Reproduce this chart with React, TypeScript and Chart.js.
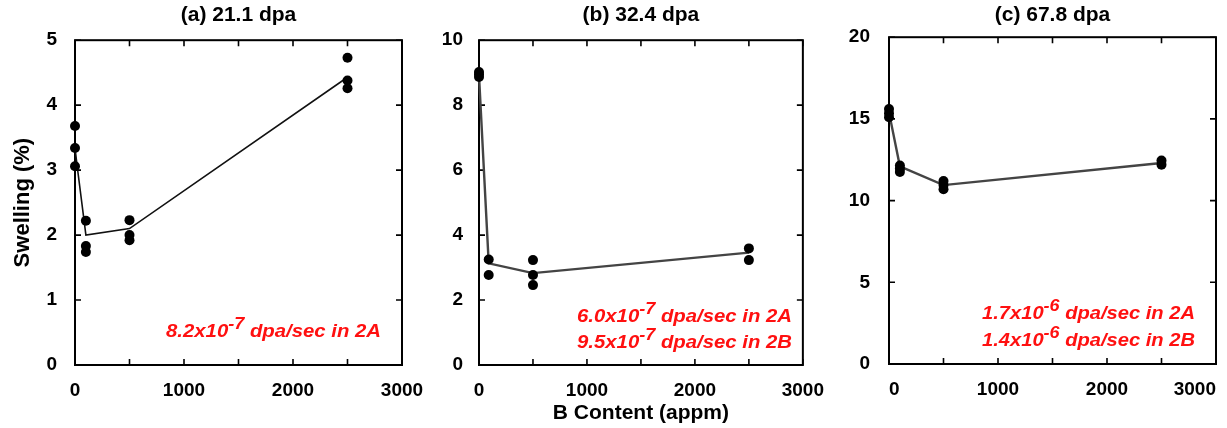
import React, { useEffect, useRef } from 'react';
import { Chart, registerables } from 'chart.js';

Chart.register(...registerables);

const FONT = '"Liberation Sans", Arial, Helvetica, sans-serif';

// ---------- Data ----------
// Panel (a) 21.1 dpa
const aBContent = [0, 0, 0, 100, 100, 100, 500, 500, 500, 2500, 2500, 2500];
const aSwelling = [3.68, 3.34, 3.06, 2.22, 1.83, 1.74, 2.23, 2.0, 1.92, 4.73, 4.38, 4.26];
const aTrendB = [0, 20, 100, 500, 2500];
const aTrendSwelling = [3.34, 3.06, 2.0, 2.1, 4.43];

// Panel (b) 32.4 dpa
const bBContent = [0, 0, 0, 90, 90, 500, 500, 500, 2500, 2500];
const bSwelling = [9.02, 8.95, 8.87, 3.25, 2.77, 3.23, 2.77, 2.46, 3.59, 3.23];
const bTrendB = [0, 90, 500, 2500];
const bTrendSwelling = [8.92, 3.13, 2.83, 3.46];

// Panel (c) 67.8 dpa
const cBContent = [0, 0, 0, 100, 100, 100, 500, 500, 500, 2500, 2500];
const cSwelling = [15.6, 15.35, 15.1, 12.15, 11.95, 11.75, 11.2, 10.95, 10.7, 12.45, 12.2];
const cTrendB = [0, 100, 500, 2500];
const cTrendSwelling = [15.4, 12.1, 10.95, 12.3];

const panelTitles = ['(a) 21.1 dpa', '(b) 32.4 dpa', '(c) 67.8 dpa'];
const yMaxValues = [5, 10, 20];
const yStepValues = [1, 2, 5];
const xMin = 0;
const xMax = 3000;
const xTickStep = 500;
const xLabelStep = 1000;
const yAxisTitle = 'Swelling (%)';
const xAxisTitle = 'B Content (appm)';

// rate notes: [mantissa, exponent, rest]
const aNotes = [['8.2x10', '-7', ' dpa/sec in 2A']];
const bNotes = [['6.0x10', '-7', ' dpa/sec in 2A'], ['9.5x10', '-7', ' dpa/sec in 2B']];
const cNotes = [['1.7x10', '-6', ' dpa/sec in 2A'], ['1.4x10', '-6', ' dpa/sec in 2B']];

// ---------- Plugins ----------
const frameTicksPlugin = {
  id: 'frameTicks',
  beforeDatasetsDraw(chart: any) {
    const { ctx, chartArea } = chart;
    const { left, right, top, bottom } = chartArea;
    const tl = 6;
    ctx.save();
    ctx.strokeStyle = '#000';
    ctx.lineWidth = 1.6;
    const xs = chart.scales.x;
    xs.ticks.forEach((t: any) => {
      const px = xs.getPixelForValue(t.value);
      ctx.beginPath();
      ctx.moveTo(px, bottom);
      ctx.lineTo(px, bottom - tl);
      ctx.moveTo(px, top);
      ctx.lineTo(px, top + tl);
      ctx.stroke();
    });
    const ys = chart.scales.y;
    ys.ticks.forEach((t: any) => {
      const py = ys.getPixelForValue(t.value);
      ctx.beginPath();
      ctx.moveTo(left, py);
      ctx.lineTo(left + tl, py);
      ctx.moveTo(right, py);
      ctx.lineTo(right - tl, py);
      ctx.stroke();
    });
    ctx.lineWidth = 2;
    ctx.strokeRect(left, top, right - left, bottom - top);
    ctx.restore();
  },
};

const rateNotesPlugin = {
  id: 'rateNotes',
  afterDraw(chart: any, _args: any, opts: any) {
    const { ctx, chartArea } = chart;
    const lines: string[][] = opts.lines || [];
    const size = 18;
    const mainFont = `italic bold ${size}px ${FONT}`;
    const supFont = `italic bold ${Math.round(size * 0.9)}px ${FONT}`;
    lines.forEach((parts, i) => {
      const x = chartArea.left + opts.left;
      const y = chartArea.bottom - opts.baselines[i];
      ctx.save();
      ctx.font = mainFont;
      const w1 = ctx.measureText(parts[0]).width;
      const w3 = ctx.measureText(parts[2]).width;
      ctx.font = supFont;
      const w2 = ctx.measureText(parts[1]).width;
      const sx = opts.width / (w1 + w2 + w3);
      ctx.translate(x, y);
      ctx.scale(sx, 1);
      ctx.fillStyle = '#ff1010';
      ctx.textBaseline = 'alphabetic';
      ctx.textAlign = 'left';
      ctx.font = mainFont;
      ctx.fillText(parts[0], 0, 0);
      ctx.font = supFont;
      ctx.fillText(parts[1], w1, -size * 0.45);
      ctx.font = mainFont;
      ctx.fillText(parts[2], w1 + w2, 0);
      ctx.restore();
    });
  },
};

// ---------- Panels ----------
const panels = [
  {
    canvasLeft: 0, canvasWidth: 430, yWidth: 75, padRight: 28, titleBottom: 12, xHeight: 63,
    title: panelTitles[0], yMax: yMaxValues[0], yStep: yStepValues[0],
    xs: aBContent, ys: aSwelling, lx: aTrendB, ly: aTrendSwelling,
    lineColor: '#111', lineWidth: 1.6, yTitle: true, xTitle: false, xAlign: 'center', yPad: 10,
    notes: aNotes, noteLeft: 91, noteBaselines: [28], noteWidth: 215,
  },
  {
    canvasLeft: 430, canvasWidth: 400, yWidth: 49, padRight: 27, titleBottom: 12, xHeight: 63,
    title: panelTitles[1], yMax: yMaxValues[1], yStep: yStepValues[1],
    xs: bBContent, ys: bSwelling, lx: bTrendB, ly: bTrendSwelling,
    lineColor: '#444', lineWidth: 2.4, yTitle: false, xTitle: true, xAlign: 'center', yPad: 8,
    notes: bNotes, noteLeft: 98, noteBaselines: [43, 17], noteWidth: 215,
  },
  {
    canvasLeft: 830, canvasWidth: 397, yWidth: 59, padRight: 11, titleBottom: 9, xHeight: 64,
    title: panelTitles[2], yMax: yMaxValues[2], yStep: yStepValues[2],
    xs: cBContent, ys: cSwelling, lx: cTrendB, ly: cTrendSwelling,
    lineColor: '#444', lineWidth: 2.4, yTitle: false, xTitle: false, xAlign: 'inner', yPad: 11,
    notes: cNotes, noteLeft: 93, noteBaselines: [45, 18], noteWidth: 213,
  },
];

function buildConfig(p: any): any {
  const tickFont = { family: FONT, size: 19, weight: 'bold' };
  return {
    type: 'scatter',
    data: {
      datasets: [
        {
          data: p.lx.map((x: number, i: number) => ({ x, y: p.ly[i] })),
          showLine: true,
          borderColor: p.lineColor,
          borderWidth: p.lineWidth,
          pointRadius: 0,
          clip: false,
          order: 2,
        },
        {
          data: p.xs.map((x: number, i: number) => ({ x, y: p.ys[i] })),
          showLine: false,
          pointRadius: 5,
          backgroundColor: '#000',
          borderColor: '#000',
          borderWidth: 0,
          clip: false,
          order: 1,
        },
      ],
    },
    options: {
      responsive: false,
      animation: false,
      layout: { padding: { left: 0, right: p.padRight, top: 0, bottom: 0 } },
      plugins: {
        legend: { display: false },
        tooltip: { enabled: false },
        title: {
          display: true,
          text: p.title,
          fullSize: false,
          color: '#000',
          font: { family: FONT, size: 21, weight: 'bold' },
          padding: { top: 3, bottom: p.titleBottom },
        },
        rateNotes: { lines: p.notes, left: p.noteLeft, baselines: p.noteBaselines, width: p.noteWidth },
      },
      scales: {
        x: {
          type: 'linear',
          min: xMin,
          max: xMax,
          grid: { display: false },
          border: { display: false },
          ticks: {
            stepSize: xTickStep,
            autoSkip: false,
            maxRotation: 0,
            minRotation: 0,
            align: p.xAlign,
            padding: 6,
            color: '#000',
            font: tickFont,
            callback: (v: number) => (v % xLabelStep === 0 ? String(v) : ''),
          },
          title: {
            display: p.xTitle,
            text: xAxisTitle,
            color: '#000',
            font: { family: FONT, size: 21, weight: 'bold' },
            padding: { top: 0, bottom: 2 },
          },
          afterFit: (s: any) => { s.height = p.xHeight; },
        },
        y: {
          type: 'linear',
          min: 0,
          max: p.yMax,
          grid: { display: false },
          border: { display: false },
          ticks: {
            stepSize: p.yStep,
            padding: p.yPad,
            color: '#000',
            font: tickFont,
          },
          title: {
            display: p.yTitle,
            text: yAxisTitle,
            color: '#000',
            font: { family: FONT, size: 22, weight: 'bold' },
            padding: { top: 10, bottom: 0 },
          },
          afterFit: (s: any) => { s.width = p.yWidth; },
        },
      },
    },
    plugins: [frameTicksPlugin, rateNotesPlugin],
  };
}

function Panel({ cfg }: { cfg: any }) {
  const ref = useRef<HTMLCanvasElement | null>(null);
  useEffect(() => {
    if (!ref.current) return;
    const chart = new Chart(ref.current, buildConfig(cfg));
    return () => chart.destroy();
  }, [cfg]);
  return (
    <canvas
      ref={ref}
      width={cfg.canvasWidth}
      height={428}
      style={{ position: 'absolute', left: cfg.canvasLeft, top: 0, width: cfg.canvasWidth, height: 428 }}
    />
  );
}

export default function App() {
  return (
    <div style={{ position: 'absolute', left: 0, top: 0, width: 1227, height: 428, background: '#fff', overflow: 'hidden' }}>
      {panels.map((p, i) => (
        <Panel key={i} cfg={p} />
      ))}
    </div>
  );
}
